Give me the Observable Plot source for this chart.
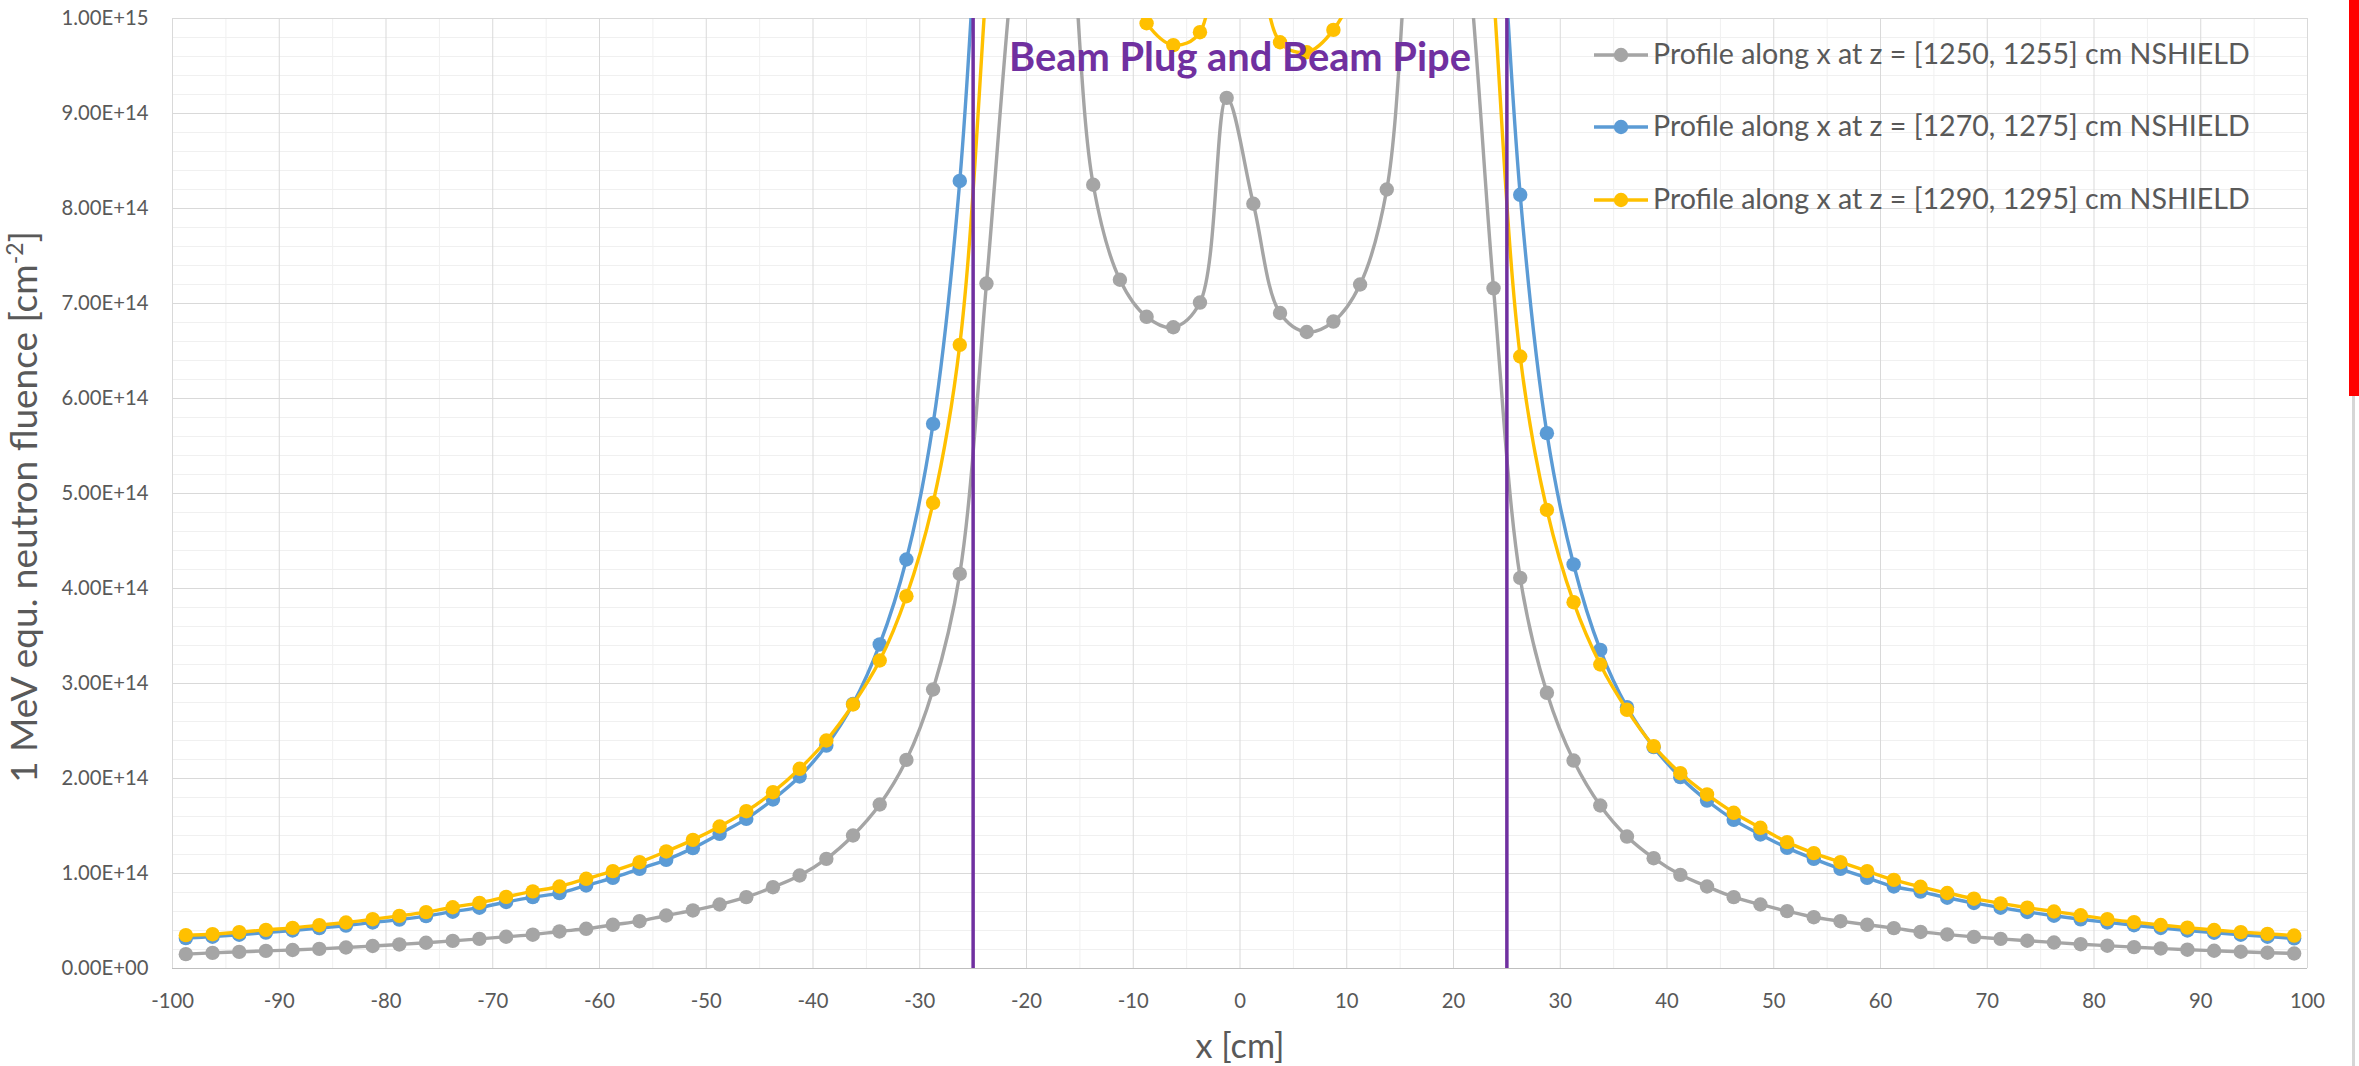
<!DOCTYPE html>
<html>
<head>
<meta charset="utf-8">
<script src="https://cdn.jsdelivr.net/npm/d3@7"></script>
<script src="https://cdn.jsdelivr.net/npm/@observablehq/plot@0.6"></script>
<style>
html, body { margin: 0; padding: 0; background: #fff; overflow: hidden; }
#wrap { position: relative; width: 2359px; height: 1066px; font-family: Lato, sans-serif; color: #595959; }
#wrap > svg { position: absolute; left: 0; top: 0; }
#redbar { position: absolute; left: 2349px; top: 0; width: 10px; height: 396px; background: #FF0000; }
#scrollline { position: absolute; left: 2352px; top: 396px; width: 3px; height: 670px; background: #d6d6d6; }
</style>
</head>
<body>
<div id="wrap"></div>
<script>
// ---- data (fluence in units of 1e14 cm^-2) ----
const xCenters = [
  -98.75, -96.25, -93.75, -91.25, -88.75, -86.25, -83.75, -81.25, -78.75, -76.25,
  -73.75, -71.25, -68.75, -66.25, -63.75, -61.25, -58.75, -56.25, -53.75, -51.25,
  -48.75, -46.25, -43.75, -41.25, -38.75, -36.25, -33.75, -31.25, -28.75, -26.25,
  -23.75, -21.25, -18.75, -16.25, -13.75, -11.25, -8.75, -6.25, -3.75, -1.25,
  1.25, 3.75, 6.25, 8.75, 11.25, 13.75, 16.25, 18.75, 21.25, 23.75,
  26.25, 28.75, 31.25, 33.75, 36.25, 38.75, 41.25, 43.75, 46.25, 48.75,
  51.25, 53.75, 56.25, 58.75, 61.25, 63.75, 66.25, 68.75, 71.25, 73.75,
  76.25, 78.75, 81.25, 83.75, 86.25, 88.75, 91.25, 93.75, 96.25, 98.75
];
const grayValues = [
  0.151, 0.165, 0.175, 0.186, 0.195, 0.207, 0.221, 0.237, 0.253, 0.271,
  0.291, 0.312, 0.334, 0.356, 0.390, 0.418, 0.460, 0.498, 0.558, 0.611,
  0.674, 0.751, 0.856, 0.979, 1.154, 1.400, 1.726, 2.196, 2.937, 4.154,
  7.21, 10.6, 13.0, 11.5, 8.25, 7.25, 6.86, 6.75, 7.01, 9.165,
  8.05, 6.90, 6.70, 6.81, 7.20, 8.20, 11.5, 13.0, 10.8, 7.16,
  4.112, 2.902, 2.189, 1.716, 1.389, 1.161, 0.986, 0.863, 0.751, 0.674,
  0.604, 0.540, 0.498, 0.460, 0.425, 0.385, 0.358, 0.333, 0.312, 0.292,
  0.274, 0.256, 0.240, 0.225, 0.211, 0.198, 0.187, 0.176, 0.166, 0.158
];
const blueValues = [
  0.320, 0.335, 0.355, 0.378, 0.400, 0.425, 0.452, 0.485, 0.515, 0.552,
  0.598, 0.640, 0.700, 0.752, 0.793, 0.874, 0.954, 1.049, 1.144, 1.267,
  1.418, 1.575, 1.779, 2.021, 2.347, 2.786, 3.411, 4.305, 5.733, 8.29,
  13.0, 19.0, 22.0, 20.0, 17.0, 15.0, 14.5, 14.2, 14.5, 18.0,
  16.5, 14.5, 14.2, 14.5, 15.0, 17.0, 20.0, 22.0, 19.0, 12.8,
  8.144, 5.635, 4.253, 3.354, 2.751, 2.330, 2.014, 1.768, 1.565, 1.411,
  1.270, 1.154, 1.049, 0.954, 0.863, 0.810, 0.745, 0.690, 0.640, 0.595,
  0.555, 0.518, 0.485, 0.455, 0.427, 0.400, 0.377, 0.355, 0.335, 0.318
];
const yellowValues = [
  0.351, 0.361, 0.382, 0.407, 0.428, 0.456, 0.484, 0.519, 0.554, 0.593,
  0.645, 0.691, 0.754, 0.812, 0.863, 0.944, 1.025, 1.119, 1.232, 1.354,
  1.495, 1.656, 1.856, 2.102, 2.400, 2.779, 3.242, 3.919, 4.902, 6.565,
  10.4, 15.0, 18.0, 16.0, 12.5, 10.6, 9.95, 9.72, 9.856, 13.0,
  11.5, 9.75, 9.645, 9.88, 10.5, 12.3, 16.0, 18.0, 15.0, 10.3,
  6.442, 4.828, 3.856, 3.200, 2.723, 2.340, 2.056, 1.832, 1.639, 1.481,
  1.330, 1.214, 1.119, 1.025, 0.933, 0.860, 0.795, 0.735, 0.685, 0.640,
  0.600, 0.560, 0.520, 0.488, 0.458, 0.430, 0.405, 0.383, 0.365, 0.347
];
const unit = 1e14;
const seriesNames = [
  "Profile along x at z = [1250, 1255] cm NSHIELD",
  "Profile along x at z = [1270, 1275] cm NSHIELD",
  "Profile along x at z = [1290, 1295] cm NSHIELD"
];
const seriesColors = ["#A5A5A5", "#5B9BD5", "#FFC000"];
const seriesValues = [grayValues, blueValues, yellowValues];
const pipeEdges = [-25, 25];
const annotationText = "Beam Plug and Beam Pipe";
const xTitle = "x [cm]";
const yTitleMain = "1 MeV equ. neutron fluence [cm";
const yTitleSup = "-2";
const xTicks = [-100, -90, -80, -70, -60, -50, -40, -30, -20, -10, 0, 10, 20, 30, 40, 50, 60, 70, 80, 90, 100];
const xMinorTicks = [-95, -85, -75, -65, -55, -45, -35, -25, -15, -5, 5, 15, 25, 35, 45, 55, 65, 75, 85, 95];
const yTicks = [0, 1, 2, 3, 4, 5, 6, 7, 8, 9, 10];
const yMinorTicks = [0.2, 0.4, 0.6, 0.8, 1.2, 1.4, 1.6, 1.8, 2.2, 2.4, 2.6, 2.8, 3.2, 3.4, 3.6, 3.8,
  4.2, 4.4, 4.6, 4.8, 5.2, 5.4, 5.6, 5.8, 6.2, 6.4, 6.6, 6.8, 7.2, 7.4, 7.6, 7.8,
  8.2, 8.4, 8.6, 8.8, 9.2, 9.4, 9.6, 9.8];

// ---- helpers ----
const ctx = document.createElement("canvas").getContext("2d");
function fitSize(text, weight, target) {
  ctx.font = `${weight} 100px Lato`;
  return 100 * target / ctx.measureText(text).width;
}
function sci(v) {
  if (v === 0) return "0.00E+00";
  const e = Math.floor(Math.log10(v) + 1e-9);
  const m = v / Math.pow(10, e);
  return m.toFixed(2) + "E+" + String(e).padStart(2, "0");
}

const tickFont = fitSize("1.00E+15", 400, 87);
const legendFont = fitSize(seriesNames[0], 400, 597);
const annFont = fitSize(annotationText, 700, 462);
const xTitleFont = fitSize(xTitle, 400, 89);
ctx.font = "400 100px Lato";
const yTitleFont = 100 * 552 / (ctx.measureText(yTitleMain + "]").width + 0.62 * ctx.measureText(yTitleSup).width);

const rows = [];
seriesValues.forEach((vals, s) => vals.forEach((v, i) => rows.push({series: s, x: xCenters[i], y: v * unit})));

const marks = [
  Plot.ruleX(xMinorTicks, {stroke: "#f0f0f0", strokeWidth: 1}),
  Plot.ruleY(yMinorTicks.map(d => d * unit), {stroke: "#f0f0f0", strokeWidth: 1}),
  Plot.ruleX(xTicks, {stroke: "#d9d9d9", strokeWidth: 1}),
  Plot.ruleY(yTicks.map(d => d * unit), {stroke: "#d9d9d9", strokeWidth: 1}),
  Plot.ruleY([0], {stroke: "#bfbfbf", strokeWidth: 1.2}),
  Plot.axisX({ticks: xTicks, tickSize: 0, tickPadding: 25, tickFormat: d => String(d), fontSize: tickFont, fill: "#595959", label: null}),
  Plot.axisY({ticks: yTicks.map(d => d * unit), tickSize: 0, tickPadding: 24, tickFormat: sci, fontSize: tickFont, fill: "#595959", label: null})
];
seriesValues.forEach((_, s) => {
  const data = rows.filter(r => r.series === s);
  marks.push(Plot.line(data, {x: "x", y: "y", stroke: seriesColors[s], strokeWidth: 3.4, curve: "catmull-rom", clip: true}));
  marks.push(Plot.dot(data, {x: "x", y: "y", r: 7.2, fill: seriesColors[s], stroke: "none", clip: true}));
});
marks.push(Plot.ruleX(pipeEdges, {stroke: "#7030A0", strokeWidth: 3.5}));
marks.push(Plot.text([annotationText], {x: 0, frameAnchor: "top", dy: 52, lineAnchor: "bottom", text: d => d, fill: "#7030A0", fontWeight: "bold", fontSize: annFont}));
marks.push(Plot.text([xTitle], {x: 0, frameAnchor: "bottom", dy: 89, lineAnchor: "bottom", text: d => d, fill: "#595959", fontSize: xTitleFont}));

const chart = Plot.plot({
  width: 2359,
  height: 1066,
  marginLeft: 172,
  marginRight: 52,
  marginTop: 18,
  marginBottom: 98,
  x: {domain: [-100, 100]},
  y: {domain: [0, 10 * unit]},
  style: {fontFamily: "Lato, sans-serif", background: "#fff", color: "#595959", overflow: "visible"},
  marks
});
const wrap = document.getElementById("wrap");
wrap.appendChild(chart);

// ---- overlay: legend + y title ----
const ov = d3.select(wrap).append("svg")
  .attr("width", 2359).attr("height", 1066)
  .style("position", "absolute").style("left", 0).style("top", 0)
  .attr("font-family", "Lato, sans-serif");
const legendRowY = [55, 127, 200];
seriesNames.forEach((name, i) => {
  const g = ov.append("g");
  g.append("line").attr("x1", 1594).attr("x2", 1648).attr("y1", legendRowY[i]).attr("y2", legendRowY[i])
    .attr("stroke", seriesColors[i]).attr("stroke-width", 3.4);
  g.append("circle").attr("cx", 1621).attr("cy", legendRowY[i]).attr("r", 7.2).attr("fill", seriesColors[i]);
  g.append("text").attr("x", 1653).attr("y", legendRowY[i] + 9).attr("font-size", legendFont)
    .attr("fill", "#595959").text(name);
});
const yt = ov.append("text")
  .attr("transform", "translate(37,507) rotate(-90)")
  .attr("text-anchor", "middle").attr("font-size", yTitleFont).attr("fill", "#595959");
yt.append("tspan").text(yTitleMain);
yt.append("tspan").attr("font-size", yTitleFont * 0.62).attr("dy", -yTitleFont * 0.38).text(yTitleSup);
yt.append("tspan").attr("dy", yTitleFont * 0.38).text("]");

d3.select(wrap).append("div").attr("id", "redbar");
d3.select(wrap).append("div").attr("id", "scrollline");
</script>
</body>
</html>
